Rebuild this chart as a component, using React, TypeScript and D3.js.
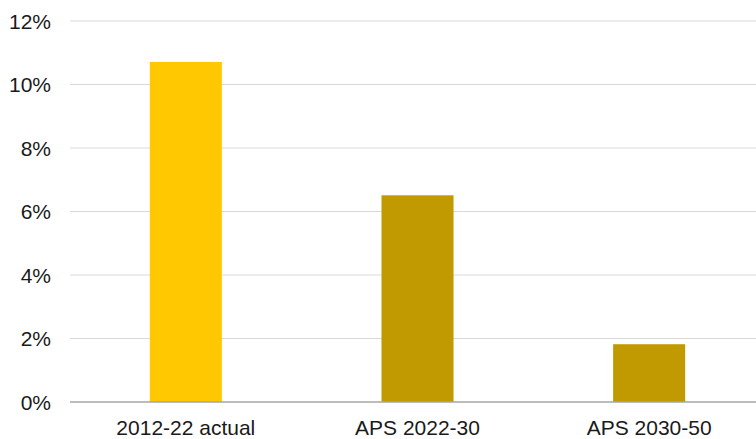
import React from "react";
import * as d3 from "d3";

const categories = ["2012-22 actual", "APS 2022-30", "APS 2030-50"];
const values = [10.71, 6.51, 1.82];
const barColors = ["#FFC800", "#C09A00", "#C09A00"];
const yTicks = [0, 2, 4, 6, 8, 10, 12];

const width = 756;
const height = 439;
const margin = { top: 21, right: -9, bottom: 37, left: 70 };

const App: React.FC = () => {
  const innerW = width - margin.left - margin.right;
  const innerH = height - margin.top - margin.bottom;

  const x = d3
    .scaleBand<string>()
    .domain(categories)
    .range([0, innerW])
    .paddingInner(0.689)
    .paddingOuter(0.3445);

  const y = d3.scaleLinear().domain([0, 12]).range([innerH, 0]);

  return (
    <svg
      width={width}
      height={height}
      style={{ position: "absolute", left: 0, top: 0, background: "#fff" }}
      fontFamily="'Liberation Sans', Arial, sans-serif"
    >
      <g transform={`translate(${margin.left},${margin.top})`}>
        {/* gridlines */}
        {yTicks.map((t) => (
          <g key={t}>
            {t > 0 && (
              <line
                x1={0}
                x2={innerW}
                y1={y(t)}
                y2={y(t)}
                stroke="#D9D9D9"
                strokeWidth={1}
              />
            )}
            <text
              x={-19}
              y={y(t)}
              dy="0.36em"
              textAnchor="end"
              fontSize={21}
              fill="#1a1a1a"
            >
              {t}%
            </text>
          </g>
        ))}

        {/* bars */}
        {categories.map((c, i) => (
          <rect
            key={c}
            x={x(c)}
            y={y(values[i])}
            width={x.bandwidth()}
            height={y(0) - y(values[i])}
            fill={barColors[i]}
          />
        ))}

        {/* x axis line */}
        <line x1={0} x2={innerW} y1={y(0)} y2={y(0)} stroke="#A6A6A6" strokeWidth={1.5} />

        {categories.map((c) => (
          <text
            key={c}
            x={(x(c) ?? 0) + x.bandwidth() / 2}
            y={y(0) + 25}
            dy="0.36em"
            textAnchor="middle"
            fontSize={21}
            fill="#1a1a1a"
          >
            {c}
          </text>
        ))}
      </g>
    </svg>
  );
};

export default App;
